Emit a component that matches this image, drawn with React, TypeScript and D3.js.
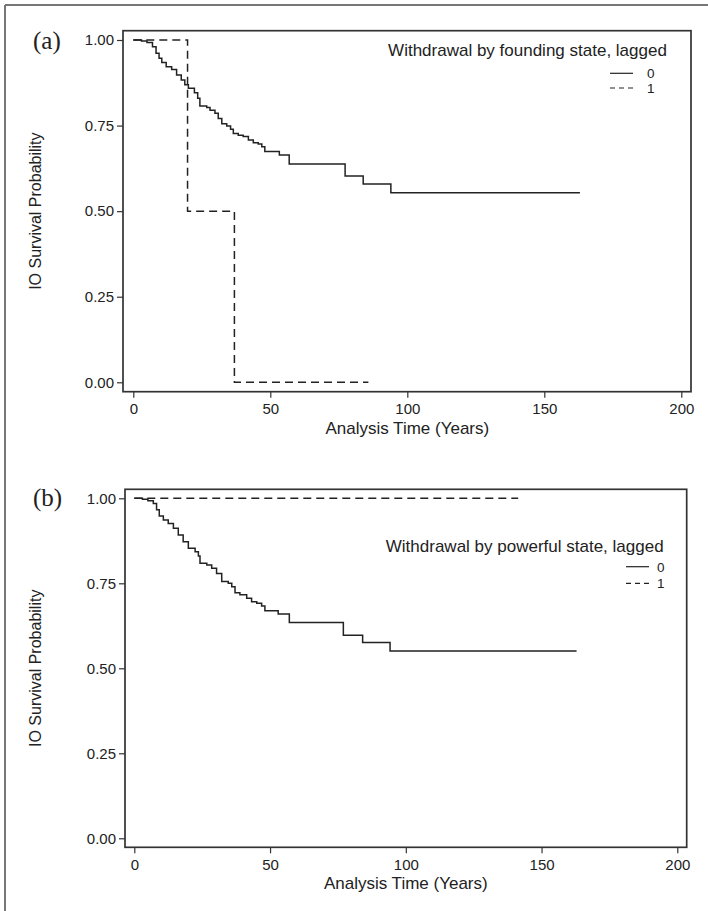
import React, { useRef, useEffect } from 'react';
import * as d3 from 'd3';

// Panel (a): withdrawal by founding state, lagged -- KM step times and survival after each step
const foundingTimes0 = [3, 5, 7, 8.3, 9.4, 10.4, 12, 14, 15.8, 17.5, 18.8, 20.1, 22.3, 23.5, 24.3, 26.8, 28, 29.8, 31, 32.3, 34.1, 35.5, 36.5, 38.3, 40.1, 42, 43.8, 45.6, 46.9, 48, 53.3, 56.9, 77.3, 83.9, 94];
const foundingSurv0 = [0.997, 0.993, 0.98, 0.961, 0.947, 0.934, 0.922, 0.914, 0.898, 0.883, 0.869, 0.859, 0.846, 0.83, 0.807, 0.803, 0.795, 0.786, 0.771, 0.755, 0.749, 0.739, 0.727, 0.722, 0.718, 0.708, 0.7, 0.696, 0.688, 0.674, 0.664, 0.638, 0.603, 0.579, 0.554];
const foundingEnd0 = 163;
const foundingTimes1 = [19.8, 36.9];
const foundingSurv1 = [0.5, 0];
const foundingEnd1 = 85.8;

// Panel (b): withdrawal by powerful state, lagged
const powerfulTimes0 = [3, 5, 7, 8.2, 9.2, 10.7, 12.5, 14.4, 16.2, 18, 19.9, 22.4, 23.6, 24.2, 26.7, 28.5, 30.3, 32.2, 34.6, 35.9, 37.1, 38.9, 41.4, 43.2, 45.1, 46.9, 48.1, 53, 57.1, 77, 84.1, 94.2];
const powerfulSurv0 = [0.997, 0.993, 0.985, 0.966, 0.948, 0.936, 0.926, 0.912, 0.892, 0.872, 0.853, 0.843, 0.83, 0.809, 0.804, 0.794, 0.779, 0.755, 0.75, 0.74, 0.722, 0.716, 0.706, 0.696, 0.691, 0.683, 0.669, 0.66, 0.635, 0.597, 0.576, 0.551];
const powerfulEnd0 = 162.9;
const powerfulTimes1: number[] = [];
const powerfulSurv1: number[] = [];
const powerfulEnd1 = 141.4;

const xTicks = [0, 50, 100, 150, 200];
const yTicks = [0, 0.25, 0.5, 0.75, 1];
const groupLabels = ['0', '1'];

const FONT = '"Liberation Sans", Arial, Helvetica, sans-serif';
const INK = '#222';

function stepPoints(times: number[], surv: number[], end: number): [number, number][] {
    const pts: [number, number][] = [[0, 1]];
    times.forEach((t, i) => pts.push([t, surv[i]]));
    pts.push([end, surv.length ? surv[surv.length - 1] : 1]);
    return pts;
}

function drawPanel(svg, cfg, series, legendTitle, label) {
    const g = svg.append('g');

    const x = d3.scaleLinear().domain([0, 200]).range([cfg.x0, cfg.x200]);
    const y = d3.scaleLinear().domain([0, 1]).range([cfg.y0, cfg.y1]);

    // plot box
    g.append('rect')
        .attr('x', cfg.left)
        .attr('y', cfg.top)
        .attr('width', cfg.right - cfg.left)
        .attr('height', cfg.bottom - cfg.top)
        .attr('fill', 'none')
        .attr('stroke', '#333')
        .attr('stroke-width', 1.7);

    const yAxis = g.append('g')
        .attr('transform', `translate(${cfg.left},0)`)
        .call(d3.axisLeft(y).tickValues(yTicks).tickFormat(d3.format('.2f')).tickSize(6).tickPadding(3));
    const xAxis = g.append('g')
        .attr('transform', `translate(0,${cfg.bottom})`)
        .call(d3.axisBottom(x).tickValues(xTicks).tickFormat(d3.format('d')).tickSize(6).tickPadding(6));

    [yAxis, xAxis].forEach(ax => {
        ax.select('.domain').remove();
        ax.selectAll('line').attr('stroke', '#333').attr('stroke-width', 1.2);
        ax.selectAll('text')
            .attr('fill', INK)
            .style('font-family', FONT)
            .style('font-size', '15px');
    });

    const line = d3.line<[number, number]>()
        .x(d => x(d[0]))
        .y(d => y(d[1]))
        .curve(d3.curveStepAfter);

    series.forEach((s, i) => {
        g.append('path')
            .datum(s)
            .attr('d', line)
            .attr('fill', 'none')
            .attr('stroke', INK)
            .attr('stroke-width', 1.5)
            .attr('stroke-dasharray', i === 1 ? '8,5' : null);
    });

    // axis titles
    g.append('text')
        .attr('x', x(100))
        .attr('y', cfg.bottom + 42)
        .attr('text-anchor', 'middle')
        .attr('fill', INK)
        .style('font-family', FONT)
        .style('font-size', '17px')
        .text('Analysis Time (Years)');

    g.append('text')
        .attr('transform', `translate(41,${(cfg.y0 + cfg.y1) / 2}) rotate(-90)`)
        .attr('text-anchor', 'middle')
        .attr('fill', INK)
        .style('font-family', FONT)
        .style('font-size', '16px')
        .text('IO Survival Probability');

    // panel label
    g.append('text')
        .attr('x', 33)
        .attr('y', cfg.labelY)
        .attr('fill', INK)
        .style('font-family', '"Liberation Serif", "Times New Roman", serif')
        .style('font-size', '25px')
        .text(label);

    // legend
    const lg = g.append('g');
    lg.append('text')
        .attr('x', cfg.legend.cx)
        .attr('y', cfg.legend.titleY)
        .attr('text-anchor', 'middle')
        .attr('fill', INK)
        .style('font-family', FONT)
        .style('font-size', '17px')
        .text(legendTitle);

    groupLabels.forEach((lab, i) => {
        const ly = cfg.legend.rowY[i];
        lg.append('line')
            .attr('x1', cfg.legend.x1)
            .attr('x2', cfg.legend.x2)
            .attr('y1', ly)
            .attr('y2', ly)
            .attr('stroke', INK)
            .attr('stroke-width', 1.2)
            .attr('stroke-dasharray', i === 1 ? '5,4' : null);
        lg.append('text')
            .attr('x', cfg.legend.labelX)
            .attr('y', ly)
            .attr('dy', '0.36em')
            .attr('fill', INK)
            .style('font-family', FONT)
            .style('font-size', '13.5px')
            .text(lab);
    });
}

function App() {
    const ref = useRef<SVGSVGElement>(null);

    useEffect(() => {
        const svg = d3.select(ref.current);
        svg.selectAll('*').remove();

        // outer frame (top and left edges visible)
        svg.append('line').attr('x1', 5).attr('x2', 708).attr('y1', 5).attr('y2', 5)
            .attr('stroke', '#777').attr('stroke-width', 2);
        svg.append('line').attr('x1', 5).attr('x2', 5).attr('y1', 5).attr('y2', 911)
            .attr('stroke', '#777').attr('stroke-width', 2);

        const topCfg = {
            left: 123, right: 691, top: 30.7, bottom: 391.7,
            x0: 133.3, x200: 681.3, y1: 40, y0: 382.3,
            labelY: 49,
            legend: { cx: 527.5, titleY: 56, rowY: [73.3, 88], x1: 610, x2: 633, labelX: 647 }
        };
        const bottomCfg = {
            left: 125, right: 686.7, top: 489.3, bottom: 847.3,
            x0: 134.3, x200: 677.3, y1: 498.3, y0: 838.3,
            labelY: 506,
            legend: { cx: 524.7, titleY: 552, rowY: [566.7, 583.3], x1: 626, x2: 649, labelX: 657 }
        };

        drawPanel(svg, topCfg, [
            stepPoints(foundingTimes0, foundingSurv0, foundingEnd0),
            stepPoints(foundingTimes1, foundingSurv1, foundingEnd1)
        ], 'Withdrawal by founding state, lagged', '(a)');

        drawPanel(svg, bottomCfg, [
            stepPoints(powerfulTimes0, powerfulSurv0, powerfulEnd0),
            stepPoints(powerfulTimes1, powerfulSurv1, powerfulEnd1)
        ], 'Withdrawal by powerful state, lagged', '(b)');
    }, []);

    return (
        <svg ref={ref} width={708} height={911}
            style={{ position: 'absolute', left: 0, top: 0, background: '#fff' }} />
    );
}

export default App;
